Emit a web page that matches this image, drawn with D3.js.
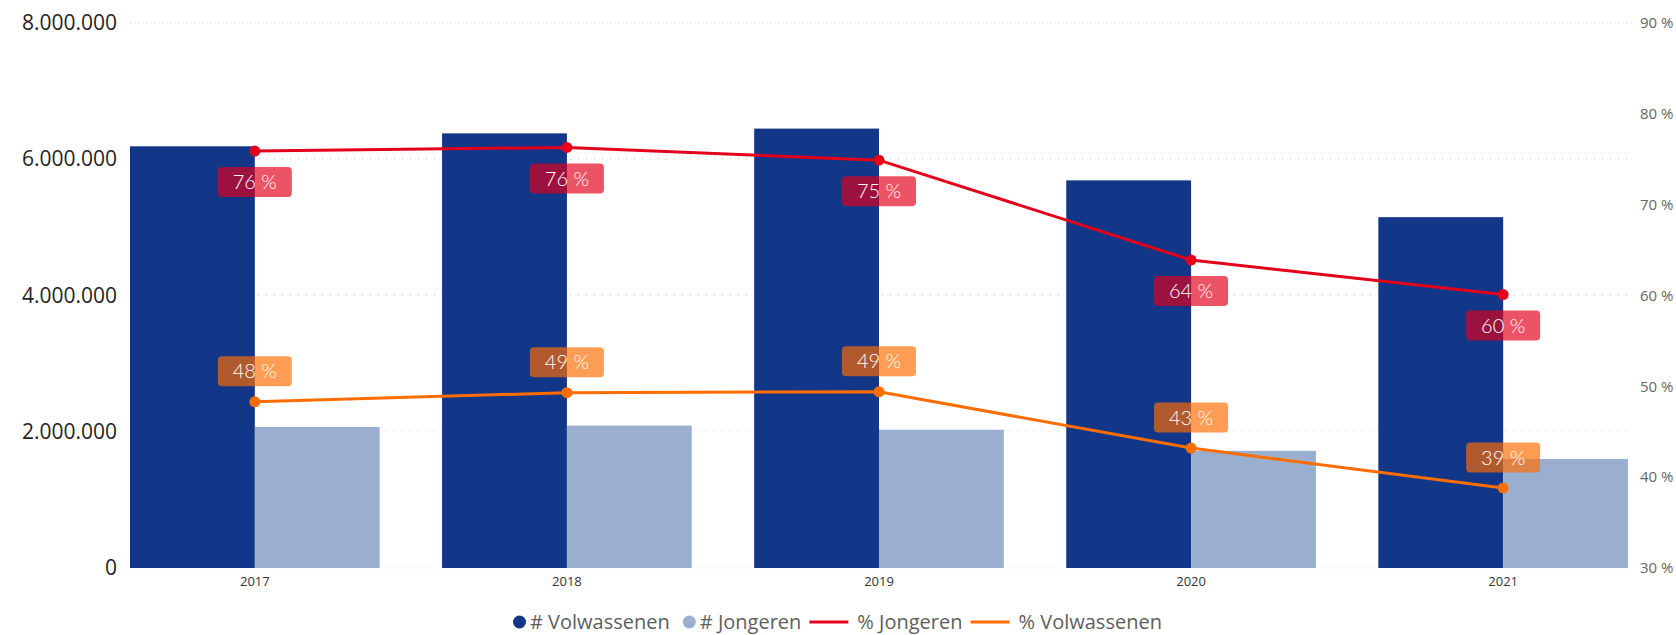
<html>
	<head>
		<title>Volwassenen en Jongeren</title>
		<script src="https://cdn.jsdelivr.net/npm/d3@7"></script>
		<style>
			body{
				margin:0px;
				background:#fff;
			}
			#container{
				position:relative;
				width:1676px;
				height:635px;
			}
			.leftaxis text{
				font-family:"Open Sans";
				font-size:21px;
				fill:#252423;
			}
			.rightaxis text{
				font-family:"Open Sans";
				font-size:15px;
				fill:#666;
			}
			.xaxis text{
				font-family:"Open Sans";
				font-size:13px;
				fill:#333;
			}
			.lbl text{
				font-family:Lato;
				font-weight:300;
				font-size:20px;
				fill:#fff;
			}
			.legend text{
				font-family:"Open Sans";
				font-size:20px;
				fill:#605e5c;
			}
		</style>
	</head>
	<body>
		<div id="container"></div>

		<script>
		var years = ['2017', '2018', '2019', '2020', '2021']
		var volwassenen = [6190000, 6380000, 6450000, 5690000, 5150000]
		var jongeren = [2070000, 2090000, 2030000, 1720000, 1600000]
		var pctJongeren = [75.9, 76.3, 74.9, 63.9, 60.1]
		var pctVolwassenen = [48.3, 49.3, 49.4, 43.2, 38.8]
		var leftTicks = [0, 2000000, 4000000, 6000000, 8000000]
		var rightTicks = [30, 40, 50, 60, 70, 80, 90]
		var legendItems = ['# Volwassenen', '# Jongeren', '% Jongeren', '% Volwassenen']

		var colDark = '#123688', colLight = '#9aafd0', colRed = '#e3001b', colOrange = '#ff6d00'

		var svg = d3.select('#container').append('svg')
			.attr('width', 1676)
			.attr('height', 635)

		var x = d3.scaleBand().domain(years).range([130, 1628]).paddingInner(0.2).paddingOuter(0)
		var xs = d3.scaleBand().domain(['v', 'j']).range([0, x.bandwidth()])
		var yL = d3.scaleLinear().domain([0, 8000000]).range([568, 23])
		var yR = d3.scaleLinear().domain([30, 90]).range([568, 23])

		var nl = d3.formatLocale({decimal: ',', thousands: '.', grouping: [3], currency: ['', '']})
		var fmt = nl.format(',')

		// grid
		svg.append('g').selectAll('line')
			.data(leftTicks)
			.enter().append('line')
			.attr('x1', 130).attr('x2', 1628)
			.attr('y1', function(d){ return yL(d) }).attr('y2', function(d){ return yL(d) })
			.attr('stroke', '#c8c6c4')
			.attr('stroke-dasharray', '1,7')

		var la = svg.append('g').attr('class', 'leftaxis')
			.attr('transform', 'translate(130,0)')
			.call(d3.axisLeft(yL).tickValues(leftTicks).tickFormat(fmt).tickSize(0).tickPadding(13))
		la.select('.domain').remove()

		var ra = svg.append('g').attr('class', 'rightaxis')
			.attr('transform', 'translate(1628,0)')
			.call(d3.axisRight(yR).tickValues(rightTicks).tickFormat(function(d){ return d + ' %' }).tickSize(0).tickPadding(12))
		ra.select('.domain').remove()

		// bars
		var groups = svg.append('g').selectAll('g')
			.data(years)
			.enter().append('g')
			.attr('transform', function(d){ return 'translate(' + x(d) + ',0)' })

		groups.append('rect')
			.attr('x', xs('v'))
			.attr('width', xs.bandwidth())
			.attr('y', function(d, i){ return yL(volwassenen[i]) })
			.attr('height', function(d, i){ return yL(0) - yL(volwassenen[i]) })
			.attr('fill', colDark)

		groups.append('rect')
			.attr('x', xs('j'))
			.attr('width', xs.bandwidth())
			.attr('y', function(d, i){ return yL(jongeren[i]) })
			.attr('height', function(d, i){ return yL(0) - yL(jongeren[i]) })
			.attr('fill', colLight)

		var xa = svg.append('g').attr('class', 'xaxis')
			.attr('transform', 'translate(0,568)')
			.call(d3.axisBottom(x).tickSize(0).tickPadding(9))
		xa.select('.domain').remove()

		// lines
		var cx = function(i){ return x(years[i]) + x.bandwidth() / 2 }
		var series = [
			{vals: pctJongeren, color: colRed, off: 31},
			{vals: pctVolwassenen, color: colOrange, off: -30.5}
		]

		series.forEach(function(s){
			var line = d3.line()
				.x(function(d, i){ return cx(i) })
				.y(function(d){ return yR(d) })

			svg.append('path')
				.attr('d', line(s.vals))
				.attr('fill', 'none')
				.attr('stroke', s.color)
				.attr('stroke-width', 3)

			svg.append('g').selectAll('circle')
				.data(s.vals)
				.enter().append('circle')
				.attr('cx', function(d, i){ return cx(i) })
				.attr('cy', function(d){ return yR(d) })
				.attr('r', 5.5)
				.attr('fill', s.color)
		})

		series.forEach(function(s){
			var lbl = svg.append('g').attr('class', 'lbl').selectAll('g')
				.data(s.vals)
				.enter().append('g')
				.attr('transform', function(d, i){ return 'translate(' + cx(i) + ',' + (yR(d) + s.off) + ')' })

			lbl.append('rect')
				.attr('x', -37).attr('y', -15)
				.attr('width', 74).attr('height', 30)
				.attr('rx', 4)
				.attr('fill', s.color)
				.attr('fill-opacity', 0.67)

			lbl.append('text')
				.attr('text-anchor', 'middle')
				.attr('dy', '0.36em')
				.text(function(d){ return Math.round(d) + ' %' })
		})

		// legend
		var legend = svg.append('g').attr('class', 'legend').attr('transform', 'translate(513,622)')
		var lx = 0
		legendItems.forEach(function(name, i){
			if (i < 2) {
				legend.append('circle').attr('cx', lx + 6.5).attr('cy', 0).attr('r', 6.5)
					.attr('fill', i == 0 ? colDark : colLight)
				lx += 17
			} else {
				legend.append('line').attr('x1', lx).attr('x2', lx + 39).attr('y1', 0).attr('y2', 0)
					.attr('stroke', i == 2 ? colRed : colOrange).attr('stroke-width', 3)
				lx += 48
			}
			var t = legend.append('text')
				.attr('x', lx)
				.attr('dy', '0.35em')
				.text(name)
			lx += t.node().getComputedTextLength() + (i == 0 ? 13 : 8)
		})
		</script>
	</body>
</html>
